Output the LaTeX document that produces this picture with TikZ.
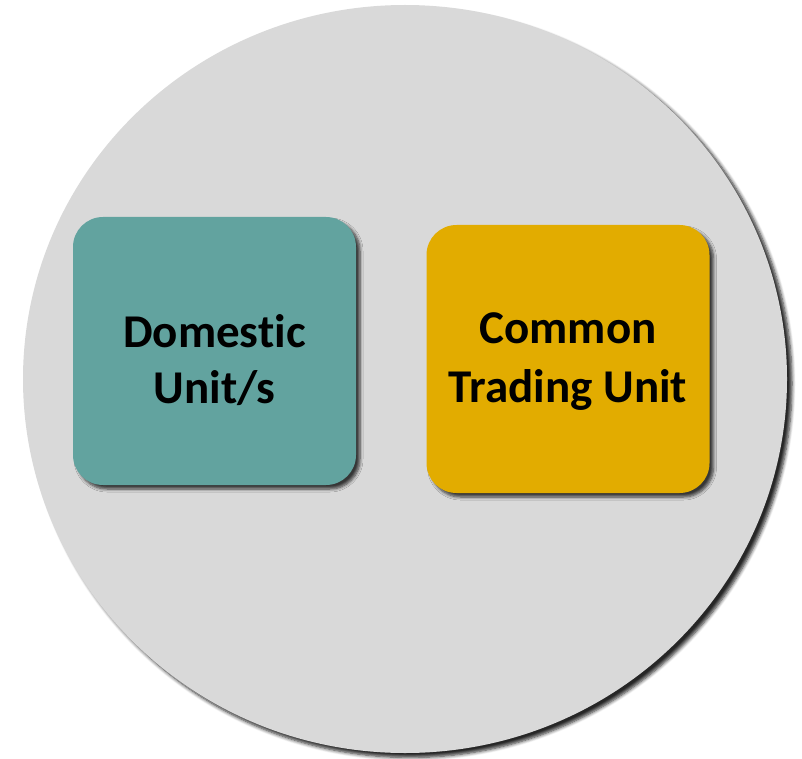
\documentclass[tikz,border=0pt]{standalone}
\usepackage{fontspec}
\setmainfont[Ligatures=NoCommon]{Carlito}
\usetikzlibrary{shapes.geometric,shadows.blur}

\definecolor{ringgray}{HTML}{D9D9D9}
\definecolor{unitteal}{HTML}{62A39F}
\definecolor{unitgold}{HTML}{E2AC00}

\tikzset{
  unitbox/.style={
    rounded corners=30pt, minimum width=283pt, minimum height=268pt,
    inner sep=0pt, outer sep=0pt,
    blur shadow={shadow xshift=4pt, shadow yshift=-4pt,
                 shadow blur radius=3pt, shadow blur steps=6,
                 shadow opacity=75}
  },
  unitlabel/.style={
    font=\bfseries\fontsize{47pt}{57pt}\selectfont,
    align=center, text=black, inner sep=0pt
  }
}

\begin{document}
\begin{tikzpicture}[x=1pt,y=-1pt]
  \useasboundingbox (0,0) rectangle (802,759);

  % grey disc holding both units
  \node[ellipse, fill=ringgray, minimum width=764pt, minimum height=748pt,
        inner sep=0pt, outer sep=0pt,
        blur shadow={shadow xshift=5pt, shadow yshift=-4.5pt,
                     shadow blur radius=3.5pt, shadow blur steps=6,
                     shadow opacity=85}]
        (market) at (405,379) {};

  % the two units
  \node[unitbox, fill=unitteal] (dom) at (214.5,351) {};
  \node[unitbox, fill=unitgold] (ctu) at (568,359) {};

  \node[unitlabel] (domtext) at ([yshift=-9pt]dom.center)
       {Domestic\\[-1pt]Unit/s};
  \node[unitlabel] (ctutext) at ([yshift=-3pt]ctu.center)
       {Common\\[2pt]Trading Unit};
\end{tikzpicture}
\end{document}
